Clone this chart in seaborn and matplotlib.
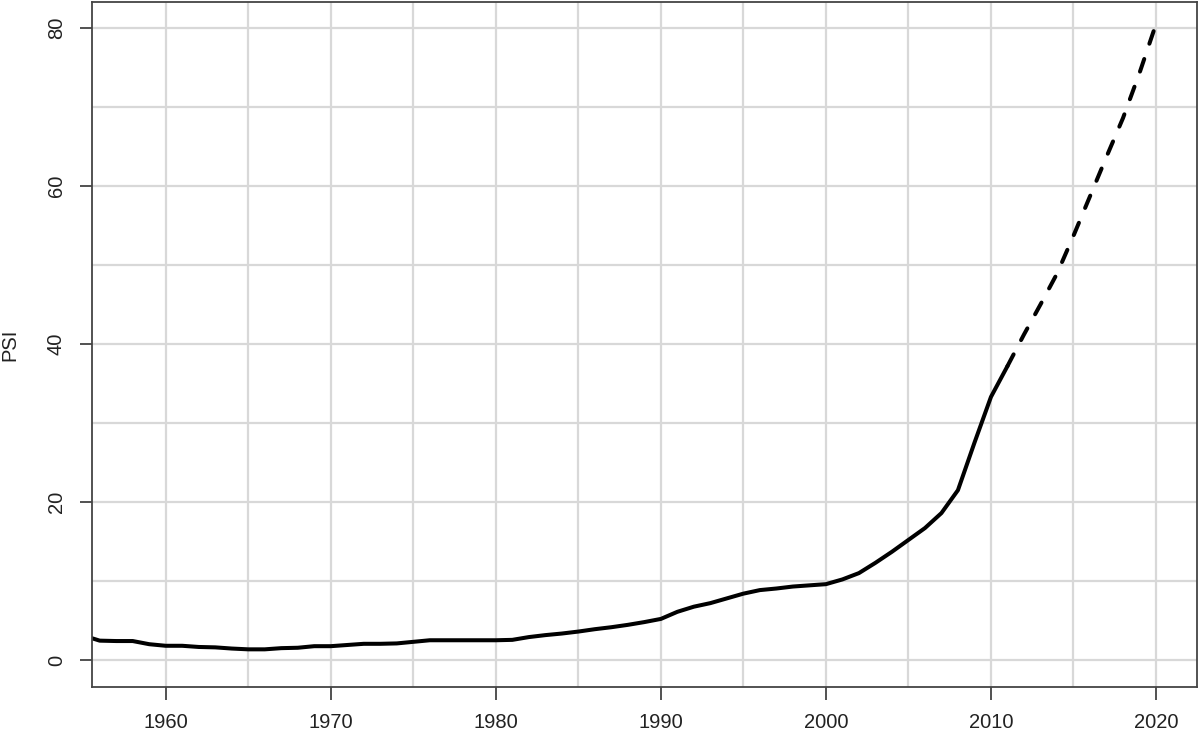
import matplotlib
matplotlib.use("Agg")
import matplotlib.pyplot as plt
import seaborn as sns
import pandas as pd

# observed series (solid)
years = list(range(1955, 2012))
psi = [3.1, 2.45, 2.4, 2.4, 2.0, 1.8, 1.8, 1.65, 1.6, 1.45,
       1.35, 1.35, 1.5, 1.55, 1.75, 1.75, 1.9, 2.05, 2.05, 2.1,
       2.3, 2.5, 2.5, 2.5, 2.5, 2.5, 2.55, 2.9, 3.15, 3.35,
       3.6, 3.9, 4.15, 4.45, 4.8, 5.2, 6.1, 6.75, 7.2, 7.8,
       8.4, 8.85, 9.05, 9.3, 9.45, 9.6, 10.2, 11.0, 12.3, 13.7,
       15.2, 16.7, 18.6, 21.5, 27.5, 33.3, 37.2]

# projection (dashed)
proj_years = list(range(2011, 2021))
proj_psi = [37.2, 41.2, 45.0, 48.9, 53.7, 58.7, 63.7, 68.6, 74.3, 80.5]

x_ticks = [1960, 1970, 1980, 1990, 2000, 2010, 2020]
y_ticks = [0, 20, 40, 60, 80]

obs = pd.DataFrame({"year": years, "psi": psi})
proj = pd.DataFrame({"year": proj_years, "psi": proj_psi})

sns.set_style("white")
plt.rcParams['font.family'] = ['Liberation Sans', 'DejaVu Sans']

fig = plt.figure(figsize=(12, 7.31), dpi=100)
ax = fig.add_axes([0.0769, 0.0606, 0.9204, 0.9367])

sns.lineplot(data=obs, x="year", y="psi", ax=ax, color="black", lw=2.9,
             solid_capstyle="round", solid_joinstyle="round")
sns.lineplot(data=proj, x="year", y="psi", ax=ax, color="black", lw=2.9,
             dashes=False, dash_capstyle="round")
ax.lines[-1].set_dashes([3.3, 4.0])

ax.set_xlim(1955.55, 2022.47)
ax.set_ylim(-3.38, 83.3)

ax.set_xticks(x_ticks)
ax.set_xticks([1965, 1975, 1985, 1995, 2005, 2015], minor=True)
ax.set_yticks(y_ticks)
ax.set_yticks([10, 30, 50, 70], minor=True)
ax.grid(True, which="both", color="#d8d8d8", lw=1.6)
ax.set_axisbelow(True)

ax.tick_params(axis="both", which="major", direction="out", length=9,
               width=1.2, color="#333333", labelsize=14.5, labelcolor="#222222",
               pad=10, bottom=True, left=True)
ax.tick_params(axis="both", which="minor", length=0)
for lab in ax.get_yticklabels():
    lab.set_rotation(90)
    lab.set_va("center")

for s in ax.spines.values():
    s.set_visible(True)
    s.set_color("#444444")
    s.set_linewidth(1.3)

ax.set_xlabel("")
ax.set_ylabel("PSI", fontsize=14.5, color="#222222", labelpad=20)

fig.savefig("out.png", dpi=100)
